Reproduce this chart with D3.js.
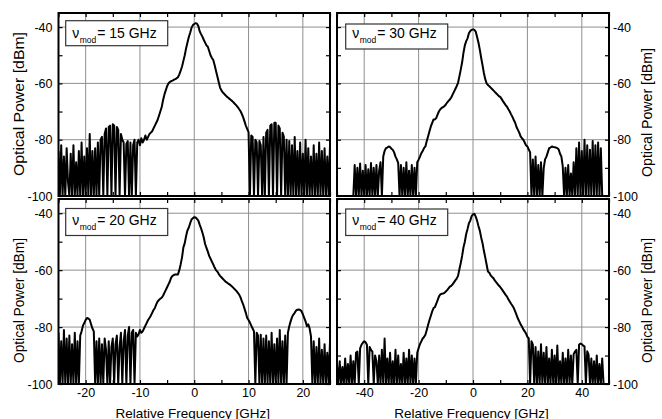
<!DOCTYPE html>
<html><head><meta charset="utf-8">
<script src="https://cdn.jsdelivr.net/npm/d3@7"></script>
<style>body{margin:0;background:#fff}svg{display:block}text{font-family:"Liberation Sans",Arial,sans-serif}</style>
</head><body>
<svg id="c" width="662" height="419"></svg>
<script>
// ---------------- data ----------------
const modulationLabels = ["15 GHz", "30 GHz", "20 GHz", "40 GHz"];
const freqStart = [-25, -50, -25, -50];
const freqStep = [0.25, 0.5, 0.25, 0.5];
const xTicksNarrow = [-20, -10, 0, 10, 20];
const xTicksWide = [-40, -20, 0, 20, 40];
const yTicks = [-100, -80, -60, -40];
const xTitle = "Relative Frequency [GHz]";
const yTitle = "Optical Power [dBm]";

const power15 = [
 -84,-100,-82,-100,-86,-100,-83,-95,
 -100,-85,-100,-82,-100,-88,-100,-84,
 -100,-81,-100,-86,-100,-83,-100,-78,
 -100,-84,-100,-83,-100,-81,-100,-80,
 -79,-100,-78,-76,-100,-75.5,-75,-100,
 -74.5,-75,-100,-75.5,-76.5,-100,-78,-80,
 -81,-100,-81.5,-80.5,-100,-81,-100,-82,
 -80,-100,-81,-80,-82,-79.5,-81,-80,
 -78.5,-80,-79,-78,-77.5,-77,-76,-75,
 -74,-73,-71.5,-70,-68.5,-66,-64,-62.5,
 -61,-60,-59.5,-59.2,-59,-58.7,-58.5,-58.2,
 -57.8,-56.8,-55.5,-54,-52,-50,-47.5,-45.5,
 -43.5,-42,-40.2,-39.3,-38.9,-38.6,-38.8,-39.6,
 -41.5,-42.5,-43.4,-44.5,-45.5,-46.5,-47,-48.5,
 -50,-51,-51.7,-53.5,-55.5,-57.5,-59.5,-61.5,
 -62.5,-63.2,-63.7,-64.2,-64.7,-65.1,-65.5,-65.9,
 -66.3,-66.8,-67.3,-67.8,-68.4,-69.1,-69.8,-70.8,
 -72,-73.5,-75,-76.2,-77.3,-100,-78.5,-79,
 -100,-80,-81,-100,-80.5,-82,-100,-79,
 -100,-77.5,-76.5,-100,-75,-74.5,-100,-74,
 -74,-100,-75,-76,-100,-77.5,-79,-100,
 -80,-100,-80.5,-100,-82,-100,-79,-100,
 -84,-100,-81,-100,-85,-100,-80,-100,
 -83,-100,-86,-100,-82,-100,-85,-100,
 -81,-100,-84,-100,-83,-100,-86,-100,
 -82
];

const power30 = [
 -100,-100,-100,-100,-100,-100,-100,-100,
 -100,-100,-100,-100,-100,-89,-100,-90,
 -100,-88.5,-100,-91,-100,-89,-100,-90.5,
 -100,-88.3,-100,-90,-100,-89,-100,-91,
 -88,-100,-86,-84,-83,-82.8,-82.4,-82.6,
 -83.2,-83.6,-84.5,-86,-87,-88.3,-100,-89,
 -100,-90,-100,-88,-100,-91,-100,-89,
 -100,-90,-100,-88,-87.1,-86,-84.8,-84,
 -83,-82.4,-80.5,-78.8,-77,-75.3,-74,-72.8,
 -72.8,-72.3,-71,-69.9,-69.2,-68.7,-68.4,-68.1,
 -67.5,-66.8,-66.2,-65.7,-65,-64,-63,-62,
 -61,-59.8,-57.5,-55.1,-52.5,-49.1,-46.5,-45,
 -44,-42.2,-41.4,-41,-40.8,-41,-41.6,-43.5,
 -45.5,-48,-50.9,-53.5,-56.3,-58.5,-60,-60.6,
 -61,-61.5,-62,-62.5,-63,-63.5,-64,-64.5,
 -64.8,-65.5,-66.3,-67,-67.7,-68.3,-69.2,-70,
 -71,-71.9,-73,-74,-75.5,-76.5,-77.5,-78.8,
 -79.5,-80,-81,-82,-82.4,-83.5,-84.5,-100,
 -87,-100,-86,-100,-89,-100,-88,-100,
 -90,-87,-86,-84.5,-83,-82.8,-82.4,-82.6,
 -82.7,-82.8,-83,-83.5,-85,-86,-89.5,-100,
 -90,-100,-89,-100,-92,-100,-88,-100,
 -83,-100,-81,-100,-84,-100,-80,-100,
 -82,-100,-83.6,-100,-80.5,-100,-82,-100,
 -81,-100,-83,-100,-100,-100,-100,-100,
 -100
];

const power20 = [
 -82,-100,-85,-100,-81,-100,-84,-100,
 -83,-100,-86,-100,-82,-100,-85,-100,
 -83,-81.5,-79.5,-78.6,-77.5,-76.8,-77,-77.4,
 -79,-80.5,-81.5,-100,-85,-100,-84,-100,
 -86,-100,-84,-88,-100,-85,-100,-87,
 -84,-100,-86,-83,-100,-87,-82,-100,
 -85,-81,-100,-83,-80,-100,-82,-81,
 -100,-82,-83.3,-82.5,-81,-82,-81.5,-80.5,
 -79.5,-78.5,-77.5,-76.8,-76,-75,-74,-73.3,
 -72,-71,-70.5,-70,-69.7,-69,-68,-67,
 -66,-65,-64,-62.6,-62,-61.7,-61.5,-61.5,
 -61.5,-60,-57.9,-55.5,-52,-50.5,-48,-46,
 -45,-43.5,-42.2,-41.7,-41.4,-41.5,-42,-42.6,
 -44,-45.3,-46.8,-48.5,-50.8,-52.2,-53.5,-55,
 -56,-57,-58,-59.1,-60,-60.5,-61.3,-62,
 -62.5,-63,-63.5,-64,-64.3,-64.7,-65,-65.4,
 -65.8,-66.3,-66.8,-67.3,-67.9,-68.5,-69.5,-70.8,
 -72,-73.5,-75,-76.8,-77.5,-78.4,-79.5,-80.5,
 -81.5,-100,-82,-83,-100,-82.7,-100,-84,
 -100,-83,-100,-85,-100,-82,-100,-86,
 -100,-84,-100,-81,-100,-85,-100,-83,
 -100,-82,-79.7,-78,-76.5,-75.6,-75,-74.2,
 -73.9,-73.8,-74,-74.4,-75.5,-76.8,-78,-79.7,
 -79,-80.5,-83.3,-100,-85,-100,-87,-100,
 -84,-100,-88,-100,-86,-100,-89,-100,
 -85
];

const power40 = [
 -93,-100,-92,-100,-94,-100,-91,-100,
 -93,-100,-90,-100,-92,-100,-89,-88.6,
 -100,-87.5,-86.2,-85.5,-85,-85.3,-86.2,-100,
 -87,-88,-88.6,-100,-90,-92,-100,-90,
 -100,-88,-100,-84,-100,-91,-100,-89,
 -100,-92,-100,-88,-100,-90,-100,-93,
 -100,-89,-100,-91,-100,-88,-100,-90,
 -100,-91,-100,-89,-87.4,-86,-85,-84,
 -83.5,-82.7,-81,-79.2,-77.5,-76,-74.5,-73.3,
 -73,-71.8,-70.5,-69.2,-68.5,-68.3,-68.2,-68,
 -67.5,-67,-66.4,-65.8,-65.5,-65,-64.3,-63.6,
 -63,-62,-59.7,-57.5,-55,-52,-50,-47.3,
 -45.5,-43.5,-42.6,-41,-40.4,-40.2,-41.2,-42.6,
 -44.5,-46.1,-48.5,-50.5,-53.2,-55.5,-58,-60.5,
 -60.9,-61.8,-62.4,-62.8,-63.6,-64.2,-64.8,-65.4,
 -65.9,-66.6,-67.3,-68,-68.7,-69.3,-70.2,-71,
 -71.8,-72.5,-73.3,-74.5,-75.7,-77,-78,-79,
 -79.8,-80.8,-81.5,-82.3,-83.4,-84,-100,-85,
 -86.2,-100,-87,-100,-88.6,-100,-86,-100,
 -89,-100,-87,-100,-91,-100,-88,-100,
 -90,-100,-86.5,-100,-92,-100,-89,-100,
 -91,-100,-88,-100,-90,-100,-89.5,-88.6,
 -88,-100,-86.2,-85.8,-86,-86.5,-86.8,-100,
 -88.5,-89.8,-100,-91,-100,-92,-100,-90,
 -100,-93,-100,-91,-100,-100,-100,-100,
 -100
];

const powerSeries = [power15, power30, power20, power40];

// ---------------- layout ----------------
const panels = [
  {x0: 58.5, x1: 330, y0: 13, y1: 196, side: "left", xLabels: false, xTicks: xTicksNarrow, minor: 5,
   box: [65.7, 20.7, 102, 25], base: 37.5, titleC: 104, titleL: 144},
  {x0: 337, x1: 609, y0: 13, y1: 196, side: "right", xLabels: false, xTicks: xTicksWide, minor: 10,
   box: [345.7, 24, 102, 25], base: 37.7, titleC: 112.5, titleL: 129},
  {x0: 58.5, x1: 330, y0: 199, y1: 384, side: "left", xLabels: true, xTicks: xTicksNarrow, minor: 5,
   box: [65.7, 208.5, 102, 27], base: 225, titleC: 300.5, titleL: 125},
  {x0: 337, x1: 609, y0: 199, y1: 384, side: "right", xLabels: true, xTicks: xTicksWide, minor: 10,
   box: [345.7, 209, 102, 26.5], base: 225, titleC: 300.5, titleL: 125}
];

const svg = d3.select("#c");
svg.append("rect").attr("width", 662).attr("height", 419).attr("fill", "#fff");
const fmt = d => String(d);

panels.forEach((p, i) => {
  const data = powerSeries[i];
  const start = freqStart[i], step = freqStep[i];
  const lim = -start;
  const x = d3.scaleLinear().domain([start, lim]).range([p.x0, p.x1]);
  const y = d3.scaleLinear().domain([-100, -35]).range([p.y1, p.y0]);
  const g = svg.append("g");

  // grid
  g.selectAll(".gx").data(p.xTicks).join("line")
    .attr("x1", d => x(d)).attr("x2", d => x(d)).attr("y1", p.y0).attr("y2", p.y1)
    .attr("stroke", "#8f8f8f").attr("stroke-width", 1);
  g.selectAll(".gy").data(yTicks.filter(v => v > -100)).join("line")
    .attr("x1", p.x0).attr("x2", p.x1).attr("y1", d => y(d)).attr("y2", d => y(d))
    .attr("stroke", "#8f8f8f").attr("stroke-width", 1);

  // curve
  const clipId = "clip" + i;
  svg.append("clipPath").attr("id", clipId).append("rect")
    .attr("x", p.x0).attr("y", p.y0).attr("width", p.x1 - p.x0).attr("height", p.y1 - p.y0);
  const line = d3.line().x((d, k) => x(start + k * step)).y(d => y(d));
  g.append("path").datum(data).attr("clip-path", `url(#${clipId})`)
    .attr("d", line).attr("fill", "none").attr("stroke", "#000")
    .attr("stroke-width", 2).attr("stroke-linejoin", "round");

  // axes (ticks inward)
  const minorX = d3.range(start, lim + 0.001, p.minor);
  const minorY = d3.range(-100, -35, 10);
  const styleAxis = sel => {
    sel.select(".domain").remove();
    sel.selectAll("line").attr("stroke", "#000").attr("stroke-width", 1.2);
    sel.selectAll("text").attr("font-size", 12.5).attr("fill", "#000")
      .attr("font-family", '"Liberation Sans", Arial, sans-serif');
  };
  svg.append("g").attr("transform", `translate(0,${p.y1})`)
    .call(d3.axisBottom(x).tickValues(minorX).tickSize(-4).tickPadding(4.5)
      .tickFormat(d => p.xLabels && p.xTicks.includes(d) ? fmt(d) : ""))
    .call(styleAxis);
  svg.append("g").attr("transform", `translate(0,${p.y0})`)
    .call(d3.axisTop(x).tickValues(minorX).tickSize(-4).tickFormat(""))
    .call(styleAxis);
  svg.append("g").attr("transform", `translate(${p.x0},0)`)
    .call(d3.axisLeft(y).tickValues(minorY).tickSize(-4).tickPadding(6)
      .tickFormat(d => p.side === "left" && yTicks.includes(d) ? fmt(d) : ""))
    .call(styleAxis);
  svg.append("g").attr("transform", `translate(${p.x1},0)`)
    .call(d3.axisRight(y).tickValues(minorY).tickSize(-4).tickPadding(4)
      .tickFormat(d => p.side === "right" && yTicks.includes(d) ? fmt(d) : ""))
    .call(styleAxis);

  // frame
  g.append("rect").attr("x", p.x0).attr("y", p.y0).attr("width", p.x1 - p.x0).attr("height", p.y1 - p.y0)
    .attr("fill", "none").attr("stroke", "#000").attr("stroke-width", 2);

  // legend box
  const [bx, by, bw, bh] = p.box;
  g.append("rect").attr("x", bx).attr("y", by).attr("width", bw).attr("height", bh)
    .attr("fill", "#fff").attr("stroke", "#333").attr("stroke-width", 1.2);
  g.append("text").attr("x", bx + 6.5).attr("y", p.base).attr("font-size", 14).text("ν");
  g.append("text").attr("x", bx + 14).attr("y", p.base + 5).attr("font-size", 8.5).text("mod");
  g.append("text").attr("x", bx + 31.5).attr("y", p.base).attr("font-size", 14)
    .text("= " + modulationLabels[i]);

  // y title
  const tx = p.side === "left" ? 19 : 647;
  svg.append("text").attr("transform", `translate(${tx + 5},${p.titleC}) rotate(-90)`)
    .attr("text-anchor", "middle").attr("font-size", 14)
    .attr("textLength", p.titleL).attr("lengthAdjust", "spacingAndGlyphs")
    .text(yTitle);

  if (p.xLabels) {
    svg.append("text").attr("x", (p.x0 + p.x1) / 2 - 1.5).attr("y", 417.5)
      .attr("text-anchor", "middle").attr("font-size", 13.5).text(xTitle);
  }
});
</script>
</body></html>
